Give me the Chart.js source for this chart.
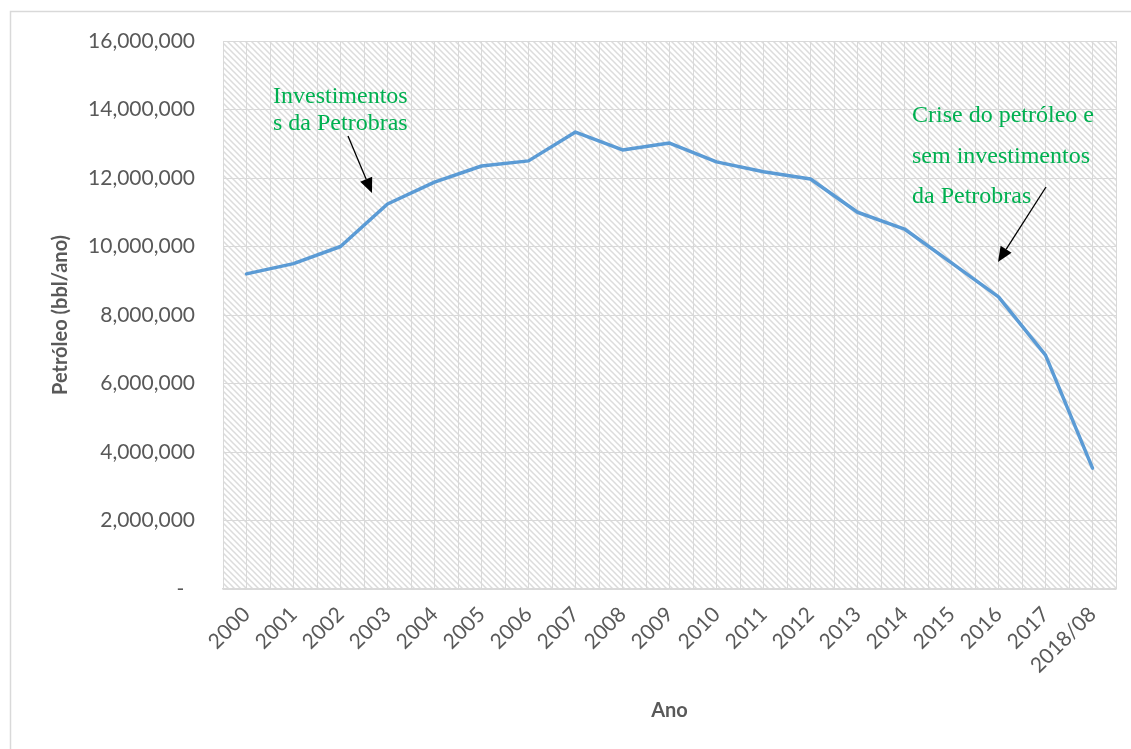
<!DOCTYPE html>
<html>
<head>
<meta charset="utf-8">
<script src="https://cdn.jsdelivr.net/npm/chart.js@4/dist/chart.umd.min.js"></script>
<style>
  html, body { margin: 0; padding: 0; background: #fff; }
  #wrap { width: 1131px; height: 749px; position: relative; }
</style>
</head>
<body>
<div id="wrap"><canvas id="c" width="1131" height="749"></canvas></div>
<script>
// Produção anual de petróleo (bbl/ano)
const anos = ['2000','2001','2002','2003','2004','2005','2006','2007','2008','2009',
              '2010','2011','2012','2013','2014','2015','2016','2017','2018/08'];
const petroleo = [9200000, 9500000, 10000000, 11240000, 11880000, 12350000, 12500000,
                  13340000, 12820000, 13020000, 12470000, 12180000, 11970000, 11000000,
                  10510000, 9520000, 8530000, 6830000, 3530000];
const yTicks = [0, 2000000, 4000000, 6000000, 8000000, 10000000, 12000000, 14000000, 16000000];

const notaInvest = ['Investimentos', 's da Petrobras'];
const notaCrise = ['Crise do petróleo e', 'sem investimentos', 'da Petrobras'];

const GRID = '#d9d9d9';
const TXT = '#595959';
const SANS = 'Lato, "Open Sans", sans-serif';

// diagonal hatch used as the plot background
function hatchPattern(ctx) {
  const s = 6;
  const t = document.createElement('canvas');
  t.width = s; t.height = s;
  const c = t.getContext('2d');
  c.fillStyle = '#ffffff';
  c.fillRect(0, 0, s, s);
  c.strokeStyle = '#dcdcdc';
  c.lineWidth = 1.5;
  c.beginPath();
  c.moveTo(-1, -1); c.lineTo(s + 1, s + 1);
  c.moveTo(-1, s - 1); c.lineTo(1, s + 1);
  c.moveTo(s - 1, -1); c.lineTo(s + 1, 1);
  c.stroke();
  return ctx.createPattern(t, 'repeat');
}

const background = {
  id: 'background',
  beforeDraw(chart) {
    const {ctx, chartArea: a} = chart;
    ctx.save();
    ctx.fillStyle = '#ffffff';
    ctx.fillRect(0, 0, chart.width, chart.height);
    ctx.strokeStyle = GRID;
    ctx.lineWidth = 1.5;
    ctx.strokeRect(10.5, 11.5, chart.width + 20, chart.height + 20);
    ctx.fillStyle = hatchPattern(ctx);
    ctx.fillRect(a.left, a.top, a.right - a.left, a.bottom - a.top);
    ctx.restore();
  }
};

function arrow(ctx, x1, y1, x2, y2) {
  const ang = Math.atan2(y2 - y1, x2 - x1);
  const len = 15, half = 6.5;
  const bx = x2 - len * Math.cos(ang), by = y2 - len * Math.sin(ang);
  ctx.beginPath();
  ctx.moveTo(x1, y1);
  ctx.lineTo(bx, by);
  ctx.stroke();
  ctx.beginPath();
  ctx.moveTo(x2, y2);
  ctx.lineTo(bx + half * Math.sin(ang), by - half * Math.cos(ang));
  ctx.lineTo(bx - half * Math.sin(ang), by + half * Math.cos(ang));
  ctx.closePath();
  ctx.fill();
}

const notes = {
  id: 'notes',
  afterDatasetsDraw(chart) {
    const ctx = chart.ctx;
    ctx.save();
    ctx.fillStyle = '#00b050';
    ctx.font = '24px "Liberation Serif", "Times New Roman", serif';
    ctx.textAlign = 'left';
    ctx.textBaseline = 'alphabetic';
    notaInvest.forEach((l, i) => ctx.fillText(l, 273, 103 + i * 27));
    notaCrise.forEach((l, i) => ctx.fillText(l, 912, 122 + i * 40.5));
    ctx.strokeStyle = '#000';
    ctx.fillStyle = '#000';
    ctx.lineWidth = 1.3;
    arrow(ctx, 348, 136, 372, 193);
    arrow(ctx, 1046, 187, 998, 262);
    ctx.restore();
  }
};

new Chart(document.getElementById('c'), {
  type: 'line',
  data: {
    labels: anos,
    datasets: [{
      data: petroleo,
      borderColor: '#5b9bd5',
      borderWidth: 3.5,
      borderJoinStyle: 'round',
      borderCapStyle: 'round',
      pointRadius: 0,
      tension: 0,
      fill: false
    }]
  },
  options: {
    responsive: false,
    animation: false,
    devicePixelRatio: 1,
    layout: { padding: { top: 41, right: 15, left: 0, bottom: 0 } },
    plugins: { legend: { display: false }, tooltip: { enabled: false } },
    scales: {
      x: {
        type: 'category',
        offset: true,
        afterFit(s) { s.height = 160; },
        grid: { color: GRID, lineWidth: 1, offset: false, drawTicks: false },
        border: { display: true, color: GRID, width: 1.5 },
        ticks: {
          color: TXT, font: { family: SANS, size: 21 },
          maxRotation: 45, minRotation: 45, autoSkip: false, padding: 13
        },
        title: {
          display: true, text: 'Ano', color: TXT,
          font: { family: SANS, size: 20, weight: 'bold' },
          padding: { top: 0, bottom: 26 }
        }
      },
      xb: {
        type: 'category',
        labels: anos,
        position: 'bottom',
        offset: true,
        afterFit(s) { s.height = 0; },
        grid: { color: GRID, lineWidth: 1, offset: true, drawTicks: false },
        border: { display: false },
        ticks: { display: false }
      },
      y: {
        min: 0, max: 16000000,
        afterFit(s) { s.width = 223; },
        afterBuildTicks(s) { s.ticks = yTicks.map(v => ({ value: v })); },
        grid: { color: GRID, lineWidth: 1, drawTicks: false },
        border: { display: false },
        ticks: {
          color: TXT, font: { family: SANS, size: 21 }, padding: 28,
          callback: v => v === 0 ? '-  ' : v.toLocaleString('en-US')
        },
        title: {
          display: true, text: 'Petróleo (bbl/ano)', color: TXT,
          font: { family: SANS, size: 20, weight: 'bold' },
          padding: { top: 49, bottom: 0 }
        }
      }
    }
  },
  plugins: [background, notes]
});
</script>
</body>
</html>
